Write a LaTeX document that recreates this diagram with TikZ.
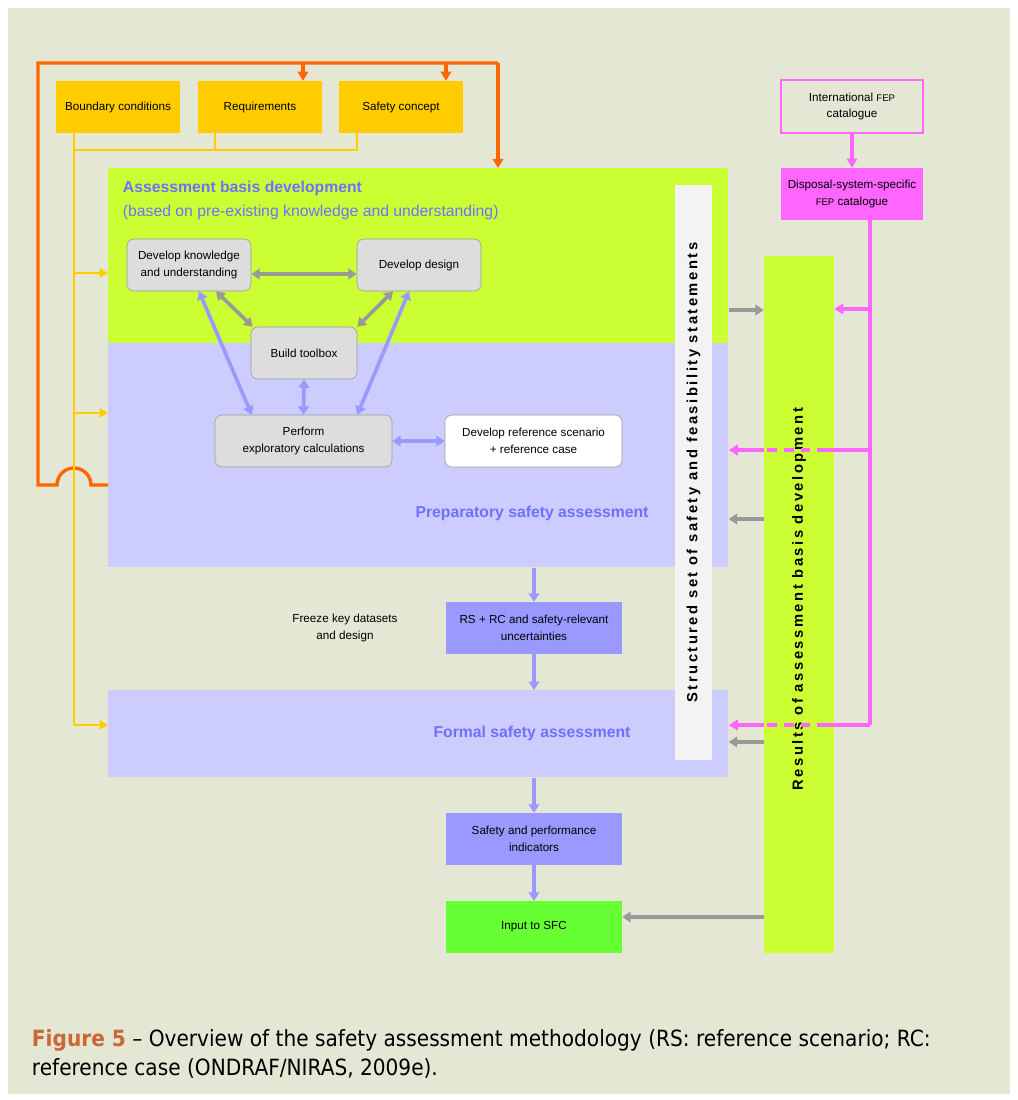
\documentclass[tikz,border=0pt]{standalone}
\usepackage{fontspec}
\setmainfont{Liberation Sans}
\newfontfamily\capfont{DejaVu Sans}[FakeStretch=0.9]
\usetikzlibrary{positioning,calc,arrows.meta}
\definecolor{pagebg}{HTML}{E4E7D3}
\definecolor{fborange}{HTML}{FF6600}
\definecolor{condyellow}{HTML}{FFCC00}
\definecolor{basisgreen}{HTML}{CCFF33}
\definecolor{assessblue}{HTML}{CCCCFF}
\definecolor{titleblue}{HTML}{7070FF}
\definecolor{linkblue}{HTML}{9999FF}
\definecolor{boxgray}{HTML}{DDDDDD}
\definecolor{linkgray}{HTML}{999999}
\definecolor{fepmagenta}{HTML}{FF66FF}
\definecolor{sfcgreen}{HTML}{66FF33}
\definecolor{stripewhite}{HTML}{F3F3F3}
\definecolor{figorange}{HTML}{CC6633}

\tikzset{
  region/.style={anchor=north west, inner sep=0pt, minimum width=15.5cm},
  condbox/.style={fill=condyellow, minimum width=3.1cm, minimum height=1.3cm, inner sep=0pt, align=center},
  taskbox/.style={draw=linkgray, fill=boxgray, rounded corners=5pt, minimum width=3.1cm, minimum height=1.3cm, inner sep=0pt, align=center},
  flowbox/.style={minimum width=4.4cm, minimum height=1.3cm, inner sep=0pt, align=center},
  titletext/.style={text=titleblue, font=\fontsize{11.2}{13}\selectfont\bfseries},
  vtext/.style={rotate=90, font=\fontsize{10.5}{12}\selectfont\bfseries\addfontfeatures{LetterSpace=17}},
  fbline/.style={draw=fborange, line width=2.4pt, >={Triangle[length=6.5pt,width=7.5pt]}},
  condline/.style={draw=condyellow, line width=1.9pt, >={Triangle[length=6pt,width=6.5pt]}},
  grayarrow/.style={draw=linkgray, line width=2.6pt, >={Triangle[length=6pt,width=7.5pt]}},
  bluearrow/.style={draw=linkblue, line width=2.6pt, >={Triangle[length=6pt,width=7.5pt]}},
  fepline/.style={draw=fepmagenta, line width=2.4pt, >={Triangle[length=6.5pt,width=7.5pt]}}
}

\begin{document}
\begin{tikzpicture}[x=0.025cm, y=-0.025cm, font=\fontsize{8.3}{12}\selectfont]
  \useasboundingbox (0,0) rectangle (1018,1100);
  \fill[white] (0,0) rectangle (1018,1100);
  \fill[pagebg] (8,8) rectangle (1010,1094);

  % Assessment regions
  \node[region, fill=basisgreen, minimum height=4.375cm] (basis) at (108,168) {};
  \node[region, fill=assessblue, minimum height=5.6cm] (prep) at (108,343) {};
  \node[region, fill=assessblue, minimum height=2.175cm] (formal) at (108,690) {};
  \node[titletext, anchor=west] (basisT) at (118,188) {Assessment basis development};
  \node[text=titleblue, font=\fontsize{11.2}{13}\selectfont, anchor=west] (basisS) at (118,212) {(based on pre-existing knowledge and understanding)};
  \node[titletext] (prepT) at (532,513) {Preparatory safety assessment};
  \node[titletext] (formalT) at (532,733) {Formal safety assessment};

  % Vertical bars
  \node[fill=stripewhite, minimum width=0.925cm, minimum height=14.375cm, inner sep=0pt] (statements) at (693.5,472.5) {};
  \node[vtext] (statementsT) at (statements.center) {Structured set of safety and feasibility statements};
  \node[fill=basisgreen, minimum width=1.75cm, minimum height=17.425cm, inner sep=0pt] (results) at (799,604.5) {};
  \node[vtext] (resultsT) at (799,599) {Results of assessment basis development};

  % Conditions
  \node[condbox] (bc) at (118,107) {Boundary conditions};
  \node[condbox] (req) at (260,107) {Requirements};
  \node[condbox] (sc) at (401,107) {Safety concept};

  % FEP catalogues
  \node[draw=fepmagenta, line width=0.8pt, minimum width=3.55cm, minimum height=1.325cm, align=center] (intfep) at (852,106.5) {International {\fontsize{6.8}{8}\selectfont FEP}\\catalogue};
  \node[fill=fepmagenta, minimum width=3.55cm, minimum height=1.3cm, align=center] (dsfep) at (852,194) {Disposal-system-specific\\{\fontsize{6.8}{8}\selectfont FEP} catalogue};

  % Assessment basis tasks
  \node[taskbox] (dk) at (189,265) {Develop knowledge\\and understanding};
  \node[taskbox] (dd) at (419,265) {Develop design};
  \node[taskbox, minimum width=2.65cm] (tb) at (304,353) {Build toolbox};
  \node[taskbox, minimum width=4.425cm] (pec) at (303.5,441) {Perform\\exploratory calculations};
  \node[taskbox, fill=white, minimum width=4.425cm] (rsc) at (533.5,441) {Develop reference scenario\\+ reference case};

  % Main flow
  \node[align=center] (freeze) at (345,628) {Freeze key datasets\\and design};
  \node[flowbox, fill=linkblue] (rs) at (534,628) {RS + RC and safety-relevant\\uncertainties};
  \node[flowbox, fill=linkblue] (spi) at (534,839) {Safety and performance\\indicators};
  \node[flowbox, fill=sfcgreen] (sfc) at (534,927) {Input to SFC};

  % Feedback from preparatory assessment (orange)
  \coordinate (fbTop) at (38,63);
  \draw[fbline] (prep.west |- 0,485) -- (91,485) arc[start angle=0, end angle=180, radius=0.425cm] -- (fbTop |- 0,485) -- (fbTop) -- (498,63);
  \draw[fbline,->] (498,63) -- (basis.north -| 498,0);
  \draw[fbline,->] ($(req.north)+(43,0)$) ++(0,-18) -- ($(req.north)+(43,0)$);
  \draw[fbline,->] ($(sc.north)+(45,0)$) ++(0,-18) -- ($(sc.north)+(45,0)$);

  % Conditions bus (yellow)
  \coordinate (ytrunk) at ($(bc.south)+(-44,0)$);
  \draw[condline] (ytrunk) -- (ytrunk |- 0,725);
  \draw[condline] ($(req.south)+(-45,0)$) |- (ytrunk |- 0,150);
  \draw[condline] ($(sc.south)+(-44,0)$) |- (ytrunk |- 0,150);
  \foreach \y/\target in {273/basis, 413/prep, 725/formal} {
    \draw[condline,->] (ytrunk |- 0,\y) -- (\target.west |- 0,\y);
  }

  % Links between tasks
  \draw[grayarrow,<->] ($(dk.east)+(0,9)$) -- ($(dd.west)+(0,9)$);
  \draw[grayarrow,<->] ($(dk.south)+(27,0)$) -- ($(tb.north west)+(2,0)$);
  \draw[grayarrow,<->] ($(dd.south)+(-26,0)$) -- (tb.north east);
  \draw[bluearrow,<->] ($(dk.south)+(10,0)$) -- ($(pec.north west)+(37,0)$);
  \draw[bluearrow,<->] ($(dd.south)+(-10,0)$) -- ($(pec.north east)+(-35,0)$);
  \draw[bluearrow,<->] (tb.south) -- (pec.north);
  \draw[bluearrow,<->] (pec.east) -- (rsc.west);

  % Main flow arrows
  \draw[bluearrow,->] (prep.south -| rs.north) -- (rs.north);
  \draw[bluearrow,->] (rs.south) -- (formal.north -| rs.south);
  \draw[bluearrow,->] (formal.south -| spi.north) -- (spi.north);
  \draw[bluearrow,->] (spi.south) -- (sfc.north);

  % Results links (gray)
  \draw[grayarrow,->] (basis.east |- 0,310) -- (results.west |- 0,310);
  \draw[grayarrow,->] (results.west |- 0,519) -- (prep.east |- 0,519);
  \draw[grayarrow,->] (results.west |- 0,742) -- (formal.east |- 0,742);
  \draw[grayarrow,->] (results.west |- 0,917) -- (sfc.east |- 0,917);

  % FEP links (magenta)
  \draw[fepline,->] (intfep.south) -- (dsfep.north);
  \coordinate (busTop) at ($(dsfep.south)+(18,0)$);
  \draw[fepline] (busTop) -- (busTop |- 0,725);
  \draw[fepline,->] (busTop |- 0,309) -- (results.east |- 0,309);
  \foreach \y/\target in {450/prep, 725/formal} {
    \draw[fepline] (busTop |- 0,\y) -- ($(results.east |- 0,\y)+(-7,0)$);
    \draw[fepline, dash pattern=on 7pt off 5pt] ($(results.east |- 0,\y)+(-7,0)$) -- (results.west |- 0,\y);
    \draw[fepline,->] (results.west |- 0,\y) -- (\target.east |- 0,\y);
  }

  % Caption
  \node[anchor=base west, font=\capfont\fontsize{15.9}{20}\selectfont] (cap1) at (27,1046) {\textcolor{figorange}{\textbf{Figure 5}} – Overview of the safety assessment methodology (RS: reference scenario; RC:};
  \node[anchor=base west, font=\capfont\fontsize{15.9}{20}\selectfont] (cap2) at (27,1075) {reference case (ONDRAF/NIRAS, 2009e).};
\end{tikzpicture}
\end{document}
